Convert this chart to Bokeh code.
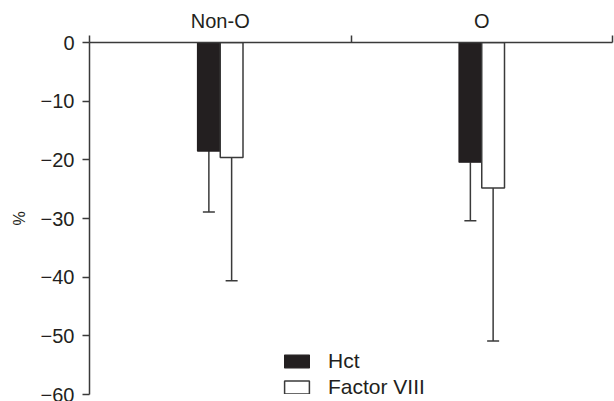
from bokeh.plotting import figure
from bokeh.models import (ColumnDataSource, Range1d, LinearAxis, FixedTicker, Legend, LegendItem)
from bokeh.transform import dodge
from bokeh.embed import file_html
from bokeh.resources import INLINE

categories = ["Non-O", "O"]
hct_mean = [-18.5, -20.4]
hct_sd = [10.4, 10.0]
f8_mean = [-19.6, -24.8]
f8_sd = [21.0, 26.1]
y_ticks = [0, -10, -20, -30, -40, -50, -60]
y_tick_labels = ["0", "\u221210", "\u221220", "\u221230", "\u221240", "\u221250", "\u221260"]
series_names = ["Hct", "Factor VIII"]

FONT = "Liberation Sans"
TXT = "#231f20"
LINE = "#3a3a3a"

centers = [i + 0.5 for i in range(len(categories))]
src = ColumnDataSource(dict(
    xc=centers,
    hct=hct_mean,
    hct_low=[m - s for m, s in zip(hct_mean, hct_sd)],
    f8=f8_mean,
    f8_low=[m - s for m, s in zip(f8_mean, f8_sd)],
))

p = figure(width=614, height=401, x_range=Range1d(0, len(categories)),
           y_range=Range1d(-60, 0), output_backend="svg", toolbar_location=None,
           x_axis_location=None, min_border_left=89, min_border_top=42,
           min_border_bottom=7, min_border_right=2)
p.xgrid.visible = False
p.ygrid.visible = False
p.outline_line_color = None
p.background_fill_color = "white"
p.border_fill_color = "white"

BW = 0.087
OFF = 0.0435
hx = dodge("xc", -OFF)
fx = dodge("xc", OFF)

# error bars (downward only)
p.segment(x0=hx, y0="hct", x1=hx, y1="hct_low", source=src, line_color=LINE, line_width=1.5)
p.segment(x0=fx, y0="f8", x1=fx, y1="f8_low", source=src, line_color=LINE, line_width=1.5)
p.scatter(x=hx, y="hct_low", source=src, marker="dash", size=12, line_color=LINE, line_width=1.5)
p.scatter(x=fx, y="f8_low", source=src, marker="dash", size=12, line_color=LINE, line_width=1.5)

r_h = p.vbar(x=hx, top=0, bottom="hct", width=BW, source=src, fill_color=TXT,
             line_color=TXT, line_width=1.2)
r_f = p.vbar(x=fx, top=0, bottom="f8", width=BW, source=src, fill_color="white",
             line_color=LINE, line_width=1.5)

# y axis
ya = p.yaxis[0]
ya.ticker = FixedTicker(ticks=y_ticks)
ya.major_label_overrides = {t: l for t, l in zip(y_ticks, y_tick_labels)}
ya.minor_tick_line_color = None
ya.major_tick_out = 7
ya.major_tick_in = 0
ya.major_label_standoff = 8
ya.axis_line_color = LINE
ya.axis_line_width = 1.5
ya.major_tick_line_color = LINE
ya.major_tick_line_width = 1.5
ya.major_label_text_font = FONT
ya.major_label_text_font_size = "20px"
ya.major_label_text_color = TXT
ya.axis_label = "%"
ya.axis_label_text_font = FONT
ya.axis_label_text_font_size = "16px"
ya.axis_label_text_font_style = "normal"
ya.axis_label_text_color = TXT
ya.axis_label_standoff = 10

# top axis: boundary ticks
bounds = list(range(len(categories) + 1))
ta = LinearAxis(ticker=FixedTicker(ticks=bounds))
ta.major_label_overrides = {b: "" for b in bounds}
ta.major_label_text_font_size = "0px"
ta.major_label_standoff = 0
ta.major_tick_out = 7
ta.major_tick_in = 0
ta.minor_tick_line_color = None
ta.axis_line_color = LINE
ta.axis_line_width = 1.5
ta.major_tick_line_color = LINE
ta.major_tick_line_width = 1.5
p.add_layout(ta, "above")

# top axis: category labels at centers
ca = LinearAxis(ticker=FixedTicker(ticks=centers))
ca.major_label_overrides = {c: n for c, n in zip(centers, categories)}
ca.axis_line_color = None
ca.major_tick_line_color = None
ca.minor_tick_line_color = None
ca.major_tick_out = 0
ca.major_tick_in = 0
ca.major_label_standoff = 4
ca.major_label_text_font = FONT
ca.major_label_text_font_size = "20px"
ca.major_label_text_color = TXT
p.add_layout(ca, "above")

legend = Legend(items=[LegendItem(label=series_names[0], renderers=[r_h]),
                       LegendItem(label=series_names[1], renderers=[r_f])],
                location=(192, -5), orientation="vertical")
legend.glyph_width = 31
legend.glyph_height = 16
legend.label_height = 20
legend.spacing = 2
legend.padding = 0
legend.margin = 0
legend.label_standoff = 16
legend.border_line_color = None
legend.background_fill_alpha = 0
legend.label_text_font = FONT
legend.label_text_font_size = "21px"
legend.label_text_color = TXT
p.add_layout(legend, "center")

open("out.html", "w").write(file_html(p, INLINE))
